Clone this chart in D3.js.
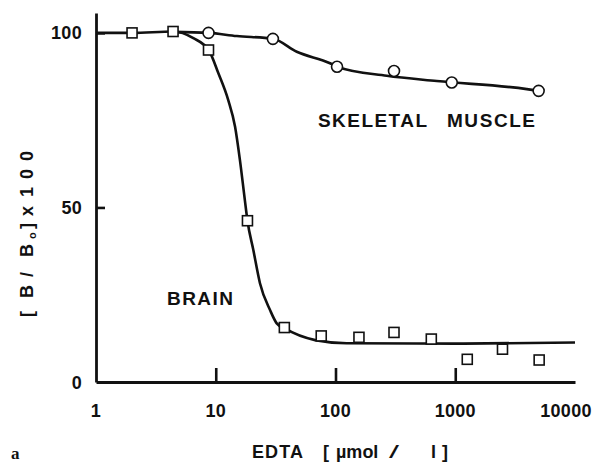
<!DOCTYPE html>
<html><head><meta charset="utf-8">
<script src="https://cdn.jsdelivr.net/npm/d3@7"></script>
<style>
html,body{margin:0;padding:0;background:#fff;}
svg{display:block;}
text{font-family:"Liberation Sans",Arial,sans-serif;font-weight:bold;fill:#111;}
</style></head>
<body>
<svg id="chart" width="598" height="464"></svg>
<script>
// ---- data ----
const xTicks = [1, 10, 100, 1000, 10000];
const xTickLabels = ["1", "10", "100", "1000", "10000"];
const yTicks = [0, 50, 100];
const yTickLabels = ["0", "50", "100"];

// Brain (squares)
const brainX = [2, 4.4, 8.7, 18.4, 37.4, 76, 157, 308, 631, 1260, 2480, 5020];
const brainY = [100, 100.4, 95.1, 46.2, 15.6, 13.2, 12.8, 14.2, 12.3, 6.5, 9.4, 6.3];
// Skeletal muscle (circles)
const muscleX = [8.7, 30, 103, 308, 935, 4970];
const muscleY = [100, 98.3, 90.3, 89.1, 85.8, 83.4];

// fitted curves
const brainCurveX = [1, 2, 4.4, 6.5, 8.8, 10.5, 12.7, 14.5, 15.9, 17.5, 18.4, 20.6, 23.4, 28.4, 32.3, 37.4, 67.6, 124, 1000, 10000];
const brainCurveY = [100, 100, 100.4, 98.5, 94.9, 88.5, 80.8, 73.1, 63.7, 52.1, 46.2, 37.8, 28.3, 20.6, 16.8, 15.4, 12.0, 11.1, 11.0, 11.3];
const muscleCurveX = [4.4, 8.7, 15, 30, 47.5, 90, 103, 268, 701, 3960, 4970];
const muscleCurveY = [100.3, 100, 99.1, 98.3, 94.6, 91.3, 90.3, 87.7, 86.2, 83.9, 83.4];

// axis / label texts
const xTitleParts = ["EDTA", "[", "µmol", "/", "l", "]"];
const yTitleParts = ["[", "B", "/", "B", "o", "]", "x", "100"];
const seriesLabels = ["SKELETAL", "MUSCLE", "BRAIN"];

// ---- layout ----
const svg = d3.select("#chart");
const x = d3.scaleLog().domain([1, 10000]).range([96, 575]);
const y = d3.scaleLinear().domain([0, 105.7]).range([382, 13]);

const toPts = (xs, ys) => xs.map((v, i) => [v, ys[i]]);
const line = d3.line().x(d => x(d[0])).y(d => y(d[1])).curve(d3.curveMonotoneX);

// curves
svg.append("path").attr("d", line(toPts(brainCurveX, brainCurveY)))
  .attr("fill", "none").attr("stroke", "#111").attr("stroke-width", 2.6);
svg.append("path").attr("d", line(toPts(muscleCurveX, muscleCurveY)))
  .attr("fill", "none").attr("stroke", "#111").attr("stroke-width", 2.6);

// axes
const xAxis = d3.axisBottom(x).tickValues(xTicks).tickSizeInner(-14).tickSizeOuter(0).tickFormat("");
const gx = svg.append("g").attr("transform", `translate(0,${y(0)})`).call(xAxis);
gx.selectAll("path.domain").attr("stroke", "#111").attr("stroke-width", 2.8);
gx.selectAll(".tick line").attr("stroke", "#111").attr("stroke-width", 2.6);
gx.selectAll(".tick").filter(d => d === 1 || d === 10000).select("line").remove();

const yAxis = d3.axisLeft(y).tickValues(yTicks).tickSizeInner(-9).tickSizeOuter(0).tickFormat("");
const gy = svg.append("g").attr("transform", `translate(${x(1)},0)`).call(yAxis);
gy.selectAll("path.domain").attr("stroke", "#111").attr("stroke-width", 2.8);
gy.selectAll(".tick line").attr("stroke", "#111").attr("stroke-width", 2.6);
gy.selectAll(".tick").filter(d => d === 0).select("line").remove();

// tick labels
svg.append("g").selectAll("text").data(xTicks).join("text")
  .attr("x", (d, i) => x(d) + (i === xTicks.length - 1 ? -9 : 0))
  .attr("y", 417).attr("text-anchor", "middle")
  .attr("font-size", 18).attr("letter-spacing", 0.3)
  .text((d, i) => xTickLabels[i]);
svg.append("g").selectAll("text").data(yTicks).join("text")
  .attr("x", 82).attr("y", d => y(d) + 6.5).attr("text-anchor", "end")
  .attr("font-size", 18).attr("letter-spacing", 0.3)
  .text((d, i) => yTickLabels[i]);

// markers
const sq = 10;
svg.append("g").selectAll("rect").data(toPts(brainX, brainY)).join("rect")
  .attr("x", d => x(d[0]) - sq / 2).attr("y", d => y(d[1]) - sq / 2)
  .attr("width", sq).attr("height", sq)
  .attr("fill", "#fff").attr("stroke", "#111").attr("stroke-width", 1.6);
svg.append("g").selectAll("circle").data(toPts(muscleX, muscleY)).join("circle")
  .attr("cx", d => x(d[0])).attr("cy", d => y(d[1])).attr("r", 5.5)
  .attr("fill", "#fff").attr("stroke", "#111").attr("stroke-width", 1.6);

// series labels
svg.append("text").attr("x", 318).attr("y", 127).attr("font-size", 19)
  .attr("textLength", 109).attr("lengthAdjust", "spacing").text(seriesLabels[0]);
svg.append("text").attr("x", 447).attr("y", 127).attr("font-size", 19)
  .attr("textLength", 88).attr("lengthAdjust", "spacing").text(seriesLabels[1]);
svg.append("text").attr("x", 167).attr("y", 305).attr("font-size", 19)
  .attr("textLength", 66).attr("lengthAdjust", "spacing").text(seriesLabels[2]);

// x title
const xt = svg.append("g");
xt.append("text").attr("x", 252).attr("y", 458).attr("font-size", 18)
  .attr("textLength", 51).attr("lengthAdjust", "spacing").text(xTitleParts[0]);
xt.append("text").attr("x", 323).attr("y", 458).attr("font-size", 18).text(xTitleParts[1]);
xt.append("text").attr("x", 336).attr("y", 458).attr("font-size", 18).text(xTitleParts[2]);
xt.append("text").attr("transform", "translate(389,458) scale(2,1.05)").attr("font-size", 18)
  .style("font-weight", "normal").text(xTitleParts[3]);
xt.append("text").attr("x", 431).attr("y", 458).attr("font-size", 18).text(xTitleParts[4]);
xt.append("text").attr("x", 442).attr("y", 458).attr("font-size", 18).text(xTitleParts[5]);

// y title (rotated)
const ytPos = [[0, 18, 0], [19, 18, 0], [40, 18, 0], [60, 18, 0], [78, 11, 3], [88, 18, 0], [101, 18, 0], [120, 18, 0]];
const yt = svg.append("g").attr("transform", "translate(33,317) rotate(-90)");
yTitleParts.forEach((t, i) => {
  const e = yt.append("text").attr("x", ytPos[i][0]).attr("y", ytPos[i][2])
    .attr("font-size", ytPos[i][1]).text(t);
  if (i === yTitleParts.length - 1) e.attr("textLength", 46).attr("lengthAdjust", "spacing");
});

svg.append("text").attr("x", 11).attr("y", 459).attr("font-size", 17)
  .style("font-family", "'Liberation Serif','Times New Roman',serif").text("a");
</script>
</body></html>
